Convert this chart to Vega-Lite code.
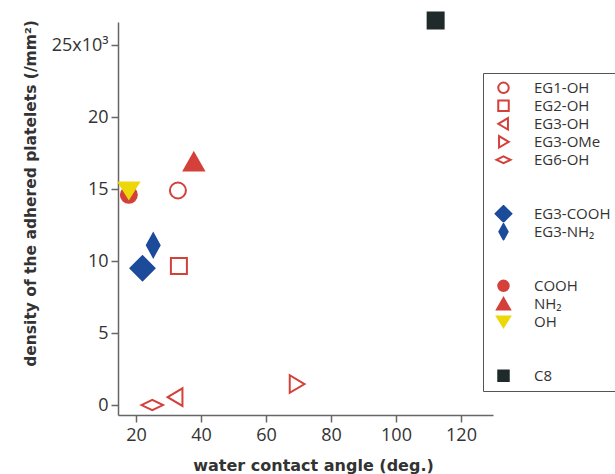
{
  "$schema": "https://vega.github.io/schema/vega-lite/v6.json",
  "width": 375,
  "height": 393,
  "autosize": "none",
  "padding": {"left": 118, "top": 22, "right": 122, "bottom": 59},
  "background": "white",
  "config": {
    "view": {"stroke": null},
    "font": "Open Sans",
    "legend": {
      "strokeColor": "#555",
      "fillColor": "white",
      "padding": 6,
      "symbolOffset": 7,
      "symbolSize": 110,
      "symbolStrokeWidth": 2,
      "symbolOpacity": 1,
      "labelFont": "Open Sans",
      "labelFontSize": 15,
      "labelColor": "#333",
      "labelOffset": 23,
      "rowPadding": 0,
      "clipHeight": 17.6,
      "gridAlign": "all",
      "labelLimit": 200
    }
  },
  "data": {
    "values": [
      {"series": "EG1-OH", "angle": 32.9, "density": 14.9},
      {"series": "EG2-OH", "angle": 33.2, "density": 9.65},
      {"series": "EG3-OH", "angle": 32.2, "density": 0.55},
      {"series": "EG3-OMe", "angle": 69.4, "density": 1.46},
      {"series": "EG6-OH", "angle": 25.0, "density": 0.0},
      {"series": "EG3-COOH", "angle": 22.0, "density": 9.5},
      {"series": "EG3-NH₂", "angle": 25.3, "density": 11.1},
      {"series": "COOH", "angle": 17.8, "density": 14.6},
      {"series": "NH₂", "angle": 37.8, "density": 16.9},
      {"series": "OH", "angle": 17.8, "density": 14.9},
      {"series": "C8", "angle": 112.2, "density": 26.7}
    ]
  },
  "mark": {"type": "point", "size": 256, "strokeWidth": 2, "opacity": 1, "clip": false},
  "encoding": {
    "x": {
      "field": "angle",
      "type": "quantitative",
      "scale": {"domain": [14.46, 129.85], "nice": false, "zero": false},
      "axis": {
        "values": [20, 40, 60, 80, 100, 120],
        "title": "water contact angle (deg.)",
        "grid": false,
        "domainColor": "#666",
        "domainWidth": 1.5,
        "tickColor": "#666",
        "tickWidth": 1.5,
        "tickSize": 7,
        "labelFontSize": 18,
        "labelColor": "#333",
        "labelPadding": 4,
        "titleFont": "DejaVu Sans",
        "titleFontSize": 16,
        "titleFontWeight": "bold",
        "titleColor": "#333",
        "titleX": 195,
        "titleY": 50,
        "titleBaseline": "middle"
      }
    },
    "y": {
      "field": "density",
      "type": "quantitative",
      "scale": {"domain": [-0.69, 26.6], "nice": false, "zero": false},
      "axis": {
        "values": [0, 5, 10, 15, 20, 25],
        "labelExpr": "datum.value == 25 ? '25x10³' : datum.label",
        "title": "density of the adhered platelets (/mm²)",
        "grid": false,
        "domainColor": "#666",
        "domainWidth": 1.5,
        "tickColor": "#666",
        "tickWidth": 1.5,
        "tickSize": 7,
        "labelFontSize": 18,
        "labelColor": "#333",
        "labelPadding": 3,
        "titleFont": "DejaVu Sans",
        "titleFontSize": 15.5,
        "titleFontWeight": "bold",
        "titleColor": "#333",
        "titleX": -88,
        "titleY": 171,
        "titleBaseline": "middle",
        "titleAlign": "center",
        "titleAngle": -90
      }
    },
    "shape": {
      "field": "series",
      "type": "nominal",
      "scale": {
        "domain": ["EG1-OH", "EG2-OH", "EG3-OH", "EG3-OMe", "EG6-OH", " ", "  ", "EG3-COOH", "EG3-NH₂", "   ", "    ", "COOH", "NH₂", "OH", "     ", "      ", "C8"],
        "range": [
          "circle",
          "square",
          "M-1,0L0.85,-1.1L0.85,1.1Z",
          "M1,0L-0.85,-1.1L-0.85,1.1Z",
          "M-1.35,0L0,-0.65L1.35,0L0,0.65Z",
          "circle",
          "circle",
          "M-1.5,0L0,-1.5L1.5,0L0,1.5Z",
          "M-0.8,0L0,-1.45L0.8,0L0,1.45Z",
          "circle",
          "circle",
          "circle",
          "M0,-1.1L1.25,1.1L-1.25,1.1Z",
          "M0,1L1.25,-1L-1.25,-1Z",
          "circle",
          "circle",
          "square"
        ]
      },
      "legend": {"title": null, "orient": "none", "legendX": 365, "legendY": 51}
    },
    "fill": {
      "field": "series",
      "type": "nominal",
      "scale": {
        "domain": ["EG1-OH", "EG2-OH", "EG3-OH", "EG3-OMe", "EG6-OH", " ", "  ", "EG3-COOH", "EG3-NH₂", "   ", "    ", "COOH", "NH₂", "OH", "     ", "      ", "C8"],
        "range": ["transparent", "transparent", "transparent", "transparent", "transparent", "transparent", "transparent", "#1c4b9b", "#1c4b9b", "transparent", "transparent", "#d4403a", "#d4403a", "#ecd80a", "transparent", "transparent", "#1f2b2b"]
      },
      "legend": {"title": null, "orient": "none", "legendX": 365, "legendY": 51}
    },
    "stroke": {
      "field": "series",
      "type": "nominal",
      "scale": {
        "domain": ["EG1-OH", "EG2-OH", "EG3-OH", "EG3-OMe", "EG6-OH", " ", "  ", "EG3-COOH", "EG3-NH₂", "   ", "    ", "COOH", "NH₂", "OH", "     ", "      ", "C8"],
        "range": ["#d4403a", "#d4403a", "#d4403a", "#d4403a", "#d4403a", "transparent", "transparent", "#1c4b9b", "#1c4b9b", "transparent", "transparent", "#d4403a", "#d4403a", "#ecd80a", "transparent", "transparent", "#1f2b2b"]
      },
      "legend": {"title": null, "orient": "none", "legendX": 365, "legendY": 51}
    }
  }
}
